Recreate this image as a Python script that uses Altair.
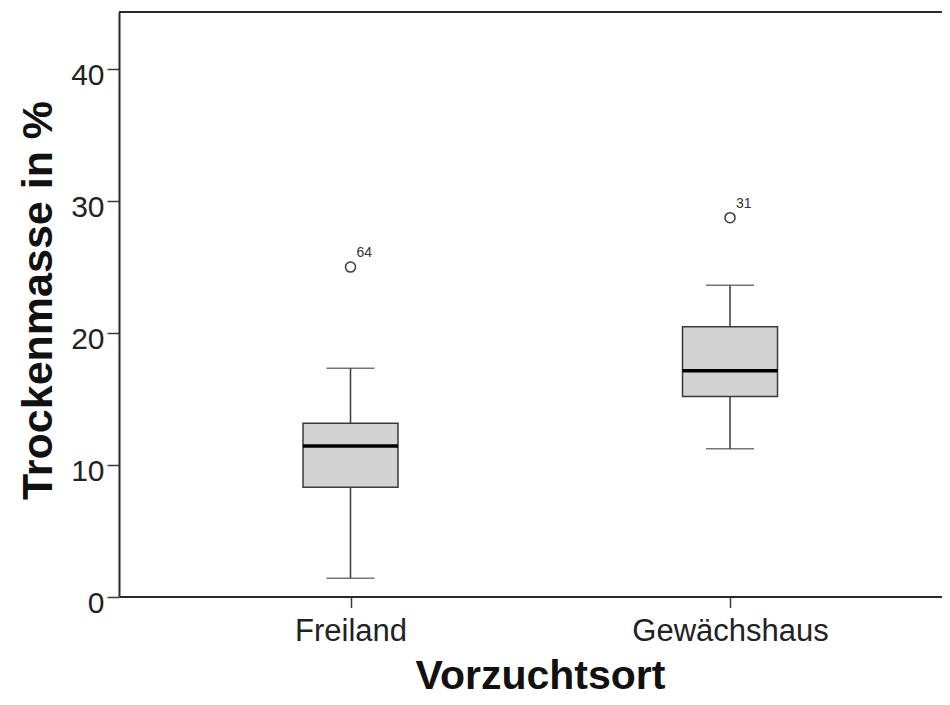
import altair as alt
import pandas as pd

# ---- data ----
categories = ["Freiland", "Gewächshaus"]
whisker_low = [1.38, 11.22]
q1_values = [8.29, 15.17]
median_values = [11.42, 17.14]
q3_values = [13.15, 20.48]
whisker_high = [17.32, 23.62]

outlier_groups = ["Freiland", "Gewächshaus"]
outlier_values = [25.0, 28.75]
outlier_ids = ["64", "31"]

y_ticks = [0, 10, 20, 30, 40]

# ---- tables ----
stats = pd.DataFrame({
    "cat": categories,
    "lo": whisker_low,
    "q1": q1_values,
    "med": median_values,
    "q3": q3_values,
    "hi": whisker_high,
})
caps = pd.DataFrame({
    "cat": categories * 2,
    "v": whisker_low + whisker_high,
})
outl = pd.DataFrame({"cat": outlier_groups, "v": outlier_values, "id": outlier_ids})

W = 823
H = 584.5
FONT = "Liberation Sans"
DARK = "#3a3a3a"

xscale = alt.Scale(type="point", padding=0.5843, align=0.522)
yscale = alt.Scale(domain=[0, 44.36], nice=False, zero=True)

x_axis = alt.Axis(
    title="Vorzuchtsort",
    labelFont=FONT, labelFontSize=31, labelColor="#222222", labelPadding=9,
    labelAngle=0, labelLimit=0,
    tickSize=11, tickColor=DARK, tickWidth=1.5,
    domainColor="#2a2a2a", domainWidth=2,
    grid=False,
    titleFont=FONT, titleFontSize=41, titleFontWeight="bold", titleColor="#111111",
    titleX=421, titleY=91.5, titleBaseline="alphabetic", titleAlign="center",
)
y_axis = alt.Axis(
    title="Trockenmasse in %",
    values=y_ticks,
    labelFont=FONT, labelFontSize=30, labelColor="#222222", labelPadding=3,
    labelOffset=6.5, labelBaseline="middle",
    tickSize=12, tickColor=DARK, tickWidth=1.5,
    domainColor="#2a2a2a", domainWidth=2,
    grid=False,
    titleFont=FONT, titleFontSize=43, titleFontWeight="bold", titleColor="#111111",
    titleAngle=270, titleX=-68, titleY=288, titleBaseline="alphabetic", titleAlign="center",
)


def X():
    return alt.X("cat:N", scale=xscale, axis=x_axis, sort=categories)


def Y(field):
    return alt.Y(f"{field}:Q", scale=yscale, axis=y_axis)


whiskers = alt.Chart(stats).mark_rule(color=DARK, strokeWidth=1.5).encode(
    x=X(), y=Y("lo"), y2="hi:Q"
)
cap_marks = alt.Chart(caps).mark_tick(color=DARK, size=48, thickness=1.5).encode(
    x=X(), y=Y("v")
)
boxes = alt.Chart(stats).mark_bar(
    size=95, fill="#d3d3d3", stroke=DARK, strokeWidth=1.5
).encode(x=X(), y=Y("q1"), y2="q3:Q")
medians = alt.Chart(stats).mark_tick(
    color="#000000", size=95, thickness=3.5, opacity=1
).encode(x=X(), y=Y("med"))
points = alt.Chart(outl).mark_point(
    shape="circle", filled=False, size=100, color=DARK, strokeWidth=1.5, opacity=1
).encode(x=X(), y=Y("v"))
labels = alt.Chart(outl).mark_text(
    font=FONT, fontSize=14, color="#333333", align="left", baseline="alphabetic",
    dx=6, dy=-10
).encode(x=X(), y=Y("v"), text="id:N")

top_line = alt.Chart(stats).mark_rule(color="#2a2a2a", strokeWidth=2).encode(
    x=alt.value(0), x2=alt.value(W), y=alt.value(0)
)

chart = alt.layer(whiskers, cap_marks, boxes, medians, points, labels, top_line).properties(
    width=W,
    height=H,
    autosize=alt.AutoSizeParams(type="none"),
    padding={"left": 111, "top": 4, "right": 0, "bottom": 100.5},
).configure_view(stroke=None).configure(background="white")

chart.save("out.html", embed_options={"renderer": "svg", "actions": False})
